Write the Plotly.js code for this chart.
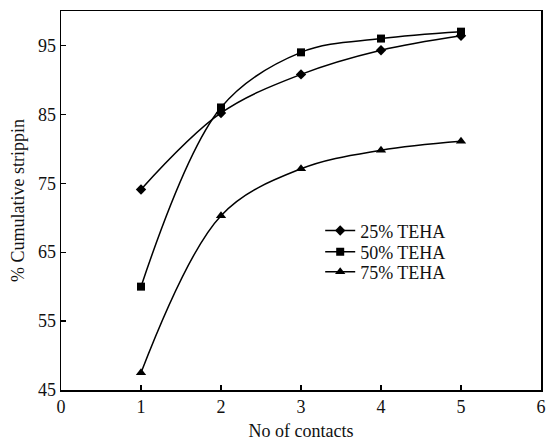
<!DOCTYPE html>
<html>
<head>
<meta charset="utf-8">
<script src="https://cdn.plot.ly/plotly-3.0.1.min.js"></script>
<style>html,body{margin:0;padding:0;background:#fff;}#chart{width:547px;height:443px;}</style>
</head>
<body>
<div id="chart"></div>
<script>
const contacts = [1, 2, 3, 4, 5];
const teha25 = [74.1, 85.2, 90.8, 94.3, 96.4];
const teha50 = [60.0, 86.0, 94.0, 96.0, 97.0];
const teha75 = [47.5, 70.3, 77.1, 79.8, 81.1];
const seriesNames = ['25% TEHA', '50% TEHA', '75% TEHA'];
const xTicks = [0, 1, 2, 3, 4, 5, 6];
const yTicks = [45, 55, 65, 75, 85, 95];

const font = 'Liberation Serif, Times New Roman, serif';
function tr(y, name, sym, size, leg) {
  return {
    x: contacts, y: y, name: name, type: 'scatter', mode: 'lines+markers',
    legend: leg,
    line: {color: '#000', width: 1.5, shape: 'spline', smoothing: 1},
    marker: {symbol: sym, size: size, color: '#000'}
  };
}
const data = [
  tr(teha25, seriesNames[0], 'diamond', 8, 'legend'),
  tr(teha50, seriesNames[1], 'square', 8, 'legend2'),
  tr(teha75, seriesNames[2], 'triangle-up', 9, 'legend3')
];
function leg(y) {
  return {x: 0.54, y: y, xanchor: 'left', yanchor: 'middle', bgcolor: 'rgba(0,0,0,0)',
          font: {family: font, size: 18, color: '#111'}, itemwidth: 30};
}
const layout = {
  width: 547, height: 443,
  margin: {l: 61, r: 6, t: 11, b: 53},
  paper_bgcolor: '#fff', plot_bgcolor: '#fff',
  font: {family: font, color: '#111', size: 18},
  showlegend: true,
  legend: leg(0.42),
  legend2: leg(0.364),
  legend3: leg(0.311),
  xaxis: {
    range: [0, 6], tickvals: xTicks, ticktext: xTicks.map(String),
    ticks: 'inside', ticklen: 5, tickcolor: '#000', tickwidth: 1.2,
    showline: true, linecolor: '#000', linewidth: 1.5, mirror: true,
    showgrid: false, zeroline: false,
    tickfont: {family: font, size: 18, color: '#111'},
    title: {text: 'No of contacts', font: {family: font, size: 18, color: '#111'}, standoff: 8}
  },
  yaxis: {
    range: [45, 100], tickvals: yTicks, ticktext: yTicks.map(String),
    ticks: 'inside', ticklen: 5, tickcolor: '#000', tickwidth: 1.2,
    showline: true, linecolor: '#000', linewidth: 1.5, mirror: true,
    showgrid: false, zeroline: false,
    tickfont: {family: font, size: 18, color: '#111'},
    title: {text: '% Cumulative strippin', font: {family: font, size: 18, color: '#111'}, standoff: 8}
  }
};
Plotly.newPlot('chart', data, layout, {staticPlot: true, displayModeBar: false});
</script>
</body>
</html>
